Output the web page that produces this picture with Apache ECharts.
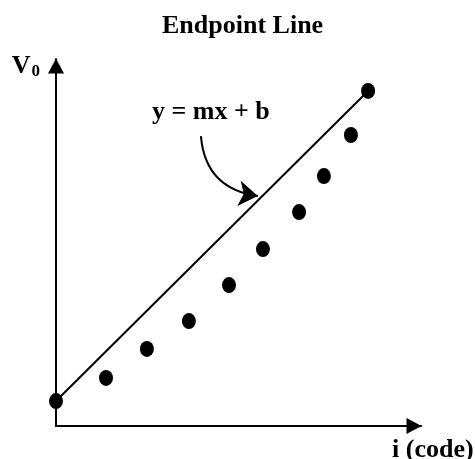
<!DOCTYPE html>
<html>
<head>
<meta charset="utf-8">
<script src="https://cdn.jsdelivr.net/npm/echarts@6/dist/echarts.min.js"></script>
<style>
	html, body { margin: 0; padding: 0; background: #fff; }
	#chart { width: 475px; height: 459px; }
</style>
</head>
<body>
<div id="chart"></div>
<script>
// 数据点 (code i, V0)
var codeX = [0, 13.7, 24.9, 36.4, 47.4, 56.7, 66.6, 73.4, 80.8, 85.5];
var voltY = [6.8, 13.1, 21.0, 28.6, 38.4, 48.2, 58.3, 68.1, 79.3, 91.3];
// 端点直线: 第一点 -> 最后一点
var lineX = [codeX[0], codeX[codeX.length - 1]];
var lineY = [voltY[0], voltY[voltY.length - 1]];
// 注释箭头起止
var noteFrom = [39.7, 79.0];
var noteTo = [55.3, 62.7];

var serif = '"Liberation Serif", "Times New Roman", serif';

var points = codeX.map(function(x, i) {
	return [x, voltY[i]];
});
var endLine = lineX.map(function(x, i) {
	return [x, lineY[i]];
});

var chart = echarts.init(document.getElementById('chart'));

var axisBase = {
	type: 'value',
	min: 0,
	max: 100,
	splitLine: { show: false },
	axisTick: { show: false },
	axisLabel: { show: false },
	axisLine: {
		show: true,
		symbol: ['none', 'triangle'],
		symbolSize: [16, 15],
		symbolOffset: [0, -7],
		lineStyle: { color: '#000', width: 2 }
	}
};

chart.setOption({
	animation: false,
	title: {
		text: 'Endpoint Line',
		left: 157,
		top: 8,
		textStyle: {
			fontFamily: serif,
			fontWeight: 'bold',
			fontSize: 26,
			color: '#000'
		}
	},
	grid: { left: 56, right: 54, top: 59, bottom: 33, outerBoundsMode: 'none' },
	xAxis: Object.assign({}, axisBase, {
		name: 'i (code)',
		nameLocation: 'end',
		nameGap: -29,
		nameTextStyle: {
			fontFamily: serif,
			fontWeight: 'bold',
			fontSize: 26,
			color: '#000',
			align: 'left',
			verticalAlign: 'top',
			padding: [11, 0, 0, 0]
		}
	}),
	yAxis: Object.assign({}, axisBase, {
		name: '{v|V}{s|0}',
		nameLocation: 'end',
		nameGap: -21,
		nameTextStyle: {
			align: 'right',
			verticalAlign: 'bottom',
			padding: [0, 16, 0, 0],
			rich: {
				v: { fontFamily: serif, fontWeight: 'bold', fontSize: 26, color: '#000' },
				s: { fontFamily: serif, fontWeight: 'bold', fontSize: 17, color: '#000', padding: [10, 0, 0, 1] }
			}
		}
	}),
	graphic: [{
		type: 'text',
		left: 152,
		top: 99,
		style: {
			text: 'y = mx + b',
			font: 'bold 26px ' + serif,
			fill: '#000'
		}
	}],
	series: [{
		type: 'line',
		data: endLine,
		symbol: 'none',
		lineStyle: { color: '#000', width: 2 },
		z: 2
	}, {
		type: 'scatter',
		data: points,
		symbol: 'circle',
		symbolSize: [14, 16],
		clip: false,
		itemStyle: { color: '#000', opacity: 1 },
		z: 3
	}, {
		type: 'lines',
		coordinateSystem: 'cartesian2d',
		data: [{ coords: [noteFrom, noteTo] }],
		symbol: ['none', 'arrow'],
		symbolSize: 19,
		lineStyle: { color: '#000', width: 2, opacity: 1, curveness: -0.4 },
		z: 4
	}]
});
</script>
</body>
</html>
